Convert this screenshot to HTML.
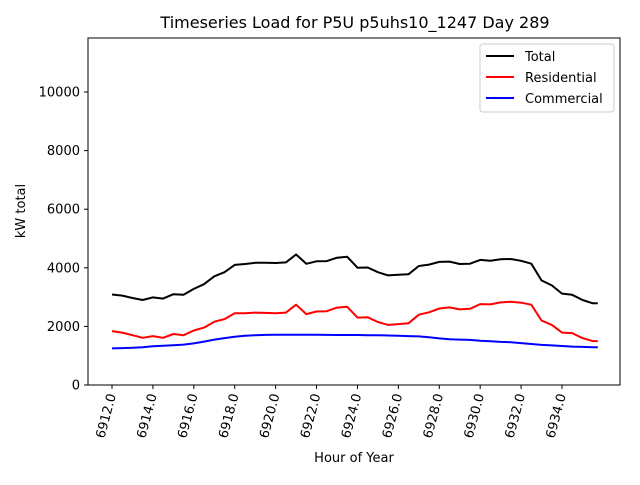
<!DOCTYPE html>
<html><head><meta charset="utf-8"><style>
html,body{margin:0;padding:0;background:#fff}
svg text{font-family:"DejaVu Sans","Liberation Sans",sans-serif;fill:#000}
</style></head><body>
<svg id="chart" width="640" height="480" xmlns="http://www.w3.org/2000/svg">
<rect width="640" height="480" fill="#fff"/>
<text x="355" y="28" font-size="16" text-anchor="middle">Timeseries Load for P5U p5uhs10_1247  Day 289</text>
<g id="grid"></g>
<g id="series"></g>
<rect x="88" y="38" width="532" height="347" fill="none" stroke="#000" stroke-width="1"/>
<g id="axes"></g>
<text x="25" y="211" font-size="13" text-anchor="middle" transform="rotate(-90 25 211)">kW total</text>
<text x="354" y="462" font-size="13" text-anchor="middle">Hour of Year</text>
<g>
<rect x="480" y="44" width="134" height="68" fill="#fff" stroke="#ccc" rx="3"/>
<line x1="486" y1="56" x2="514" y2="56" stroke="#000" stroke-width="2"/>
<text x="525" y="61" font-size="13">Total</text>
<line x1="486" y1="77" x2="514" y2="77" stroke="red" stroke-width="2"/>
<text x="525" y="82" font-size="13">Residential</text>
<line x1="486" y1="98" x2="514" y2="98" stroke="blue" stroke-width="2"/>
<text x="525" y="103" font-size="13">Commercial</text>
</g>
</svg>
<script>
const hours=[6912,6912.5,6913,6913.5,6914,6914.5,6915,6915.5,6916,6916.5,6917,6917.5,6918,6918.5,6919,6919.5,6920,6920.5,6921,6921.5,6922,6922.5,6923,6923.5,6924,6924.5,6925,6925.5,6926,6926.5,6927,6927.5,6928,6928.5,6929,6929.5,6930,6930.5,6931,6931.5,6932,6932.5,6933,6933.5,6934,6934.5,6935,6935.5,6935.75];
const residential=[1840,1790,1700,1610,1670,1610,1740,1700,1860,1960,2160,2250,2450,2450,2470,2460,2450,2470,2740,2420,2510,2520,2640,2670,2300,2310,2150,2050,2080,2110,2400,2480,2610,2650,2580,2600,2760,2750,2820,2840,2810,2740,2200,2050,1790,1770,1600,1500,1500];
const commercial=[1250,1260,1270,1290,1320,1340,1360,1380,1420,1480,1550,1600,1650,1680,1700,1710,1715,1715,1715,1715,1712,1710,1705,1705,1705,1700,1700,1690,1680,1670,1660,1630,1590,1560,1550,1540,1510,1490,1470,1460,1430,1400,1370,1350,1330,1310,1300,1290,1290];
const total=[3090,3050,2970,2900,2990,2950,3100,3080,3280,3440,3710,3850,4100,4130,4170,4170,4165,4185,4455,4135,4222,4230,4345,4375,4005,4010,3850,3740,3760,3780,4060,4110,4200,4210,4130,4140,4270,4240,4290,4300,4240,4140,3570,3400,3120,3080,2900,2790,2790];
const yTicks=[0,2000,4000,6000,8000,10000];
const xTicks=[6912,6914,6916,6918,6920,6922,6924,6926,6928,6930,6932,6934];
const xTickLabels=["6912.0","6914.0","6916.0","6918.0","6920.0","6922.0","6924.0","6926.0","6928.0","6930.0","6932.0","6934.0"];
const NS='http://www.w3.org/2000/svg';
const xs=h=>112+(h-6912)*(450/22);
const ys=v=>385-v*(293/10000);
const axes=document.getElementById('axes');
function mk(tag,attrs,parent){const e=document.createElementNS(NS,tag);for(const k in attrs)e.setAttribute(k,attrs[k]);parent.appendChild(e);return e;}
yTicks.forEach(v=>{
  const y=ys(v);
  const t=mk('line',{x1:84,x2:88,y1:y,y2:y,stroke:'#000'},axes);
  
  
  const l=mk('text',{x:80,y:y+4.5,'font-size':13,'text-anchor':'end'},axes);
  
  
  l.textContent=v;
});
xTicks.forEach((h,i)=>{
  const x=xs(h);
  const t=mk('line',{x1:x,x2:x,y1:385,y2:389,stroke:'#000'},axes);
  
  
  const l=mk('text',{x:x+4,y:395,'font-size':13,'text-anchor':'end',transform:`rotate(-75 ${x+4} 395)`},axes);
  
  
  l.textContent=xTickLabels[i];
});
const sg=document.getElementById('series');
[[total,'#000','total-line'],[residential,'red','residential-line'],[commercial,'blue','commercial-line']].forEach(([arr,c,n])=>{
  const d=arr.map((v,i)=>(i?'L':'M')+xs(hours[i]).toFixed(1)+' '+ys(v).toFixed(1)).join(' ');
  const p=mk('path',{d:d,fill:'none',stroke:c,'stroke-width':2,'stroke-linejoin':'round'},sg);
  
  
});
</script>
</body></html>
